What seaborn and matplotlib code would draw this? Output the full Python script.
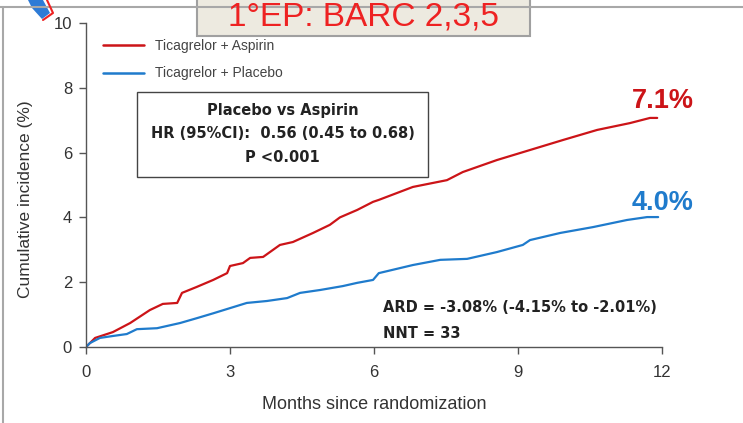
import numpy as np
import pandas as pd
import matplotlib.pyplot as plt
import seaborn as sns
from matplotlib.patches import Rectangle, Polygon
from matplotlib.lines import Line2D

# Cumulative incidence (months, %)
months_asp = [0, 0.19, 0.56, 0.92, 1.33, 1.6, 1.9, 2.0, 2.3, 2.65, 2.94, 3.0, 3.27, 3.42, 3.69,
              4.04, 4.31, 4.73, 5.08, 5.29, 5.65, 5.98, 6.1, 6.81, 7.52, 7.85, 8.56, 9.25,
              9.94, 10.65, 11.33, 11.75, 11.9]
inc_asp = [0, 0.28, 0.46, 0.74, 1.14, 1.33, 1.36, 1.67, 1.85, 2.07, 2.28, 2.5, 2.59, 2.75, 2.78,
           3.15, 3.24, 3.52, 3.77, 4.0, 4.23, 4.48, 4.54, 4.94, 5.15, 5.40, 5.77, 6.08,
           6.39, 6.70, 6.91, 7.07, 7.07]

months_pla = [0, 0.08, 0.29, 0.56, 0.85, 1.06, 1.48, 1.96, 2.31, 2.65, 3.0, 3.35, 3.77, 4.19,
              4.46, 4.88, 5.35, 5.65, 5.98, 6.1, 6.81, 7.38, 7.94, 8.56, 9.1, 9.25, 9.88,
              10.56, 11.27, 11.69, 11.92]
inc_pla = [0, 0.12, 0.28, 0.34, 0.40, 0.55, 0.58, 0.74, 0.89, 1.04, 1.2, 1.36, 1.42, 1.51,
           1.67, 1.76, 1.88, 1.98, 2.07, 2.28, 2.53, 2.69, 2.72, 2.93, 3.15, 3.30, 3.52,
           3.70, 3.92, 4.01, 4.01]

arm_labels = ['Ticagrelor + Aspirin', 'Ticagrelor + Placebo']
end_labels = ['7.1%', '4.0%']
x_ticks = [0, 3, 6, 9, 12]
y_ticks = [0, 2, 4, 6, 8, 10]

RED = '#cc1418'
BLUE = '#1f7bcc'
DARK = '#222222'

df = pd.concat([
    pd.DataFrame({'month': months_asp, 'inc': inc_asp, 'arm': arm_labels[0]}),
    pd.DataFrame({'month': months_pla, 'inc': inc_pla, 'arm': arm_labels[1]}),
])

sns.set_style('ticks')
plt.rcParams['font.family'] = ['Liberation Sans', 'DejaVu Sans']

W, H = 743, 423
fig = plt.figure(figsize=(W / 100, H / 100), dpi=100)

def px(x, y):
    return x / W, 1 - y / H

ax = fig.add_axes([86 / W, 1 - 347 / H, 576 / W, 324 / H])
sns.lineplot(data=df, x='month', y='inc', hue='arm', palette=[RED, BLUE],
             linewidth=1.6, legend=False, ax=ax, sort=False)

ax.set_xlim(0, 12)
ax.set_ylim(0, 10)
ax.set_xticks(x_ticks)
ax.set_yticks(y_ticks)
sns.despine(ax=ax)
for s in ['left', 'bottom']:
    ax.spines[s].set_color('#555555')
    ax.spines[s].set_linewidth(1.0)
ax.tick_params(length=5, width=1, color='#555555', labelcolor='#333333', labelsize=12)
ax.tick_params(axis='x', pad=8)
ax.tick_params(axis='y', pad=5)
ax.set_xlabel('Months since randomization', fontsize=13, color='#333333')
ax.xaxis.set_label_coords(0.5, -0.15)
ax.set_ylabel('Cumulative incidence (%)', fontsize=12.5, color='#333333')
ax.yaxis.set_label_coords(-0.092, 0.457)

# legend
handles = [Line2D([], [], color=RED, lw=1.8), Line2D([], [], color=BLUE, lw=1.8)]
ax.legend(handles, arm_labels, loc='upper left', bbox_to_anchor=(0.03, 0.952), frameon=False,
          fontsize=10, handlelength=2.9, handletextpad=0.85, labelspacing=1.0,
          borderpad=0, borderaxespad=0, labelcolor='#444444')

# end-point labels
ax.text(11.375, 7.38, end_labels[0], color=RED, fontsize=19.5, fontweight='bold', ha='left',
        va='baseline', clip_on=False)
ax.text(11.375, 4.23, end_labels[1], color=BLUE, fontsize=19.5, fontweight='bold', ha='left',
        va='baseline', clip_on=False)

# HR box
x0, y0 = px(137, 177)
x1, y1 = px(428, 92)
fig.add_artist(Rectangle((x0, y0), x1 - x0, y1 - y0, transform=fig.transFigure,
                         facecolor='white', edgecolor='#444444', lw=1.0))
cx = (137 + 428) / 2
for yy, t in [(110, 'Placebo vs Aspirin'), (133, 'HR (95%CI):  0.56 (0.45 to 0.68)'), (157, 'P <0.001')]:
    fig.text(*px(cx, yy), t, ha='center', va='center', fontsize=10.5, fontweight='bold',
             color=DARK, family='DejaVu Sans')

fig.text(*px(383, 307), 'ARD = -3.08% (-4.15% to -2.01%)', ha='left', va='center',
         fontsize=10.5, fontweight='bold', color=DARK, family='DejaVu Sans')
fig.text(*px(383, 333), 'NNT = 33', ha='left', va='center', fontsize=10.5, fontweight='bold',
         color=DARK, family='DejaVu Sans')

# slide frame
fig.add_artist(Line2D([px(0, 7)[0], px(743, 7)[0]], [px(0, 7)[1]] * 2, transform=fig.transFigure,
                      color='#a8a8a8', lw=1.5))
fig.add_artist(Line2D([px(3, 7)[0]] * 2, [px(3, 7)[1], px(3, 423)[1]], transform=fig.transFigure,
                      color='#a8a8a8', lw=1.5))

# title box
tx0, ty0 = px(197, 36)
tx1, ty1 = px(530, -5)
fig.add_artist(Rectangle((tx0, ty0), tx1 - tx0, ty1 - ty0, transform=fig.transFigure,
                         facecolor='#edeae0', edgecolor='#a0a0a0', lw=1.5))
fig.text(*px(363, 26), '1°EP: BARC 2,3,5', ha='center', va='baseline', fontsize=24, color='#ee2222')

# corner icon
fig.add_artist(Polygon([px(28, 0), px(43, 0), px(50, 13), px(42, 19), px(32, 8)], closed=True,
                       transform=fig.transFigure, facecolor='#2e7bd6', edgecolor='none'))
fig.add_artist(Line2D([px(47, 0)[0], px(53, 13)[0], px(43, 20)[0]],
                      [px(47, 0)[1], px(53, 13)[1], px(43, 20)[1]],
                      transform=fig.transFigure, color='#ee2222', lw=1.5))

fig.savefig('out.png', dpi=100)
